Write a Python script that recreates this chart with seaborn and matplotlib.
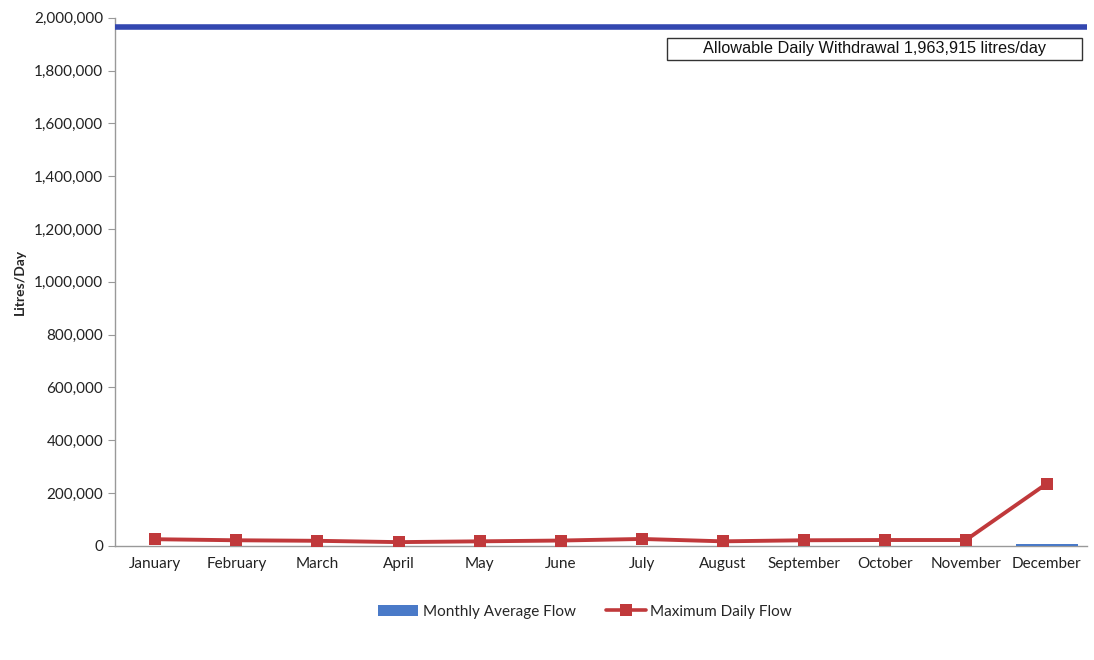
import matplotlib
matplotlib.use("Agg")
import matplotlib.pyplot as plt
import seaborn as sns
import pandas as pd
from matplotlib.patches import Patch, Rectangle
from matplotlib.lines import Line2D
from matplotlib.ticker import FuncFormatter, FixedLocator

months = ["January", "February", "March", "April", "May", "June", "July",
          "August", "September", "October", "November", "December"]
monthly_avg = [0, 0, 0, 0, 0, 0, 0, 0, 0, 0, 0, 8000]
max_daily = [25000, 21000, 19000, 14000, 17000, 20000, 26000, 17000, 21000, 22000, 22000, 236000]
allowable = 1963915
yticks = list(range(0, 2000001, 200000))

sns.set_style("white")
plt.rcParams['font.family'] = ['Lato', 'DejaVu Sans']

df = pd.DataFrame({"Month": months, "avg": monthly_avg, "max": max_daily})

fig = plt.figure(figsize=(10.94, 6.6), dpi=100)
ax = fig.add_axes([0.105, 0.173, 0.889, 0.8])

sns.barplot(data=df, x="Month", y="avg", color="#4a7ac8", width=0.76,
            saturation=1, linewidth=0, ax=ax, zorder=3)
sns.lineplot(x=list(range(len(months))), y=max_daily, color="#c0393b",
             linewidth=2.8, marker="s", markersize=9, markeredgewidth=0,
             sort=False, ax=ax, zorder=4)
ax.axhline(allowable, color="#3347b0", linewidth=4, zorder=4)

ax.set_xlim(-0.5, len(months) - 0.5)
ax.set_ylim(0, 2000000)
ax.yaxis.set_major_locator(FixedLocator(yticks))
ax.yaxis.set_major_formatter(FuncFormatter(lambda v, p: f"{int(v):,}"))
ax.set_xticks(range(len(months)))
ax.set_xticklabels(months)
ax.set_xticks([i + 0.5 for i in range(-1, len(months))], minor=True)
ax.tick_params(axis="x", which="major", length=0, pad=8, labelsize=11, colors="#222222")
ax.tick_params(axis="x", which="minor", length=5, color="#999999", direction="out")
ax.tick_params(axis="y", length=5, color="#999999", direction="out", labelsize=11,
               colors="#222222", left=True)
ax.tick_params(axis="y", color="#999999")
for s in ["top", "right"]:
    ax.spines[s].set_visible(False)
for s in ["left", "bottom"]:
    ax.spines[s].set_color("#999999")
    ax.spines[s].set_linewidth(1)
ax.set_xlabel("")
ax.set_ylabel("Litres/Day", fontsize=10, fontweight="bold", labelpad=6)

ax.add_patch(Rectangle((0.568, 0.920), 0.426, 0.042, transform=ax.transAxes,
                       facecolor="white", edgecolor="#333333", linewidth=1,
                       zorder=5, clip_on=False))
ax.text(0.781, 0.941, "Allowable Daily Withdrawal 1,963,915 litres/day",
        transform=ax.transAxes, ha="center", va="center",
        family=["Liberation Sans", "DejaVu Sans"], fontsize=11.7, color="#111111",
        zorder=6)

handles = [Patch(facecolor="#4a7ac8", edgecolor="none"),
           Line2D([0], [0], color="#c0393b", linewidth=2.6, marker="s",
                  markersize=8, markeredgewidth=0)]
fig.legend(handles, ["Monthly Average Flow", "Maximum Daily Flow"],
           loc="center", bbox_to_anchor=(0.535, 0.073), ncol=2, frameon=False,
           fontsize=11, handlelength=2.6, handletextpad=0.3, columnspacing=2.0)

fig.savefig("out.png", dpi=100)
